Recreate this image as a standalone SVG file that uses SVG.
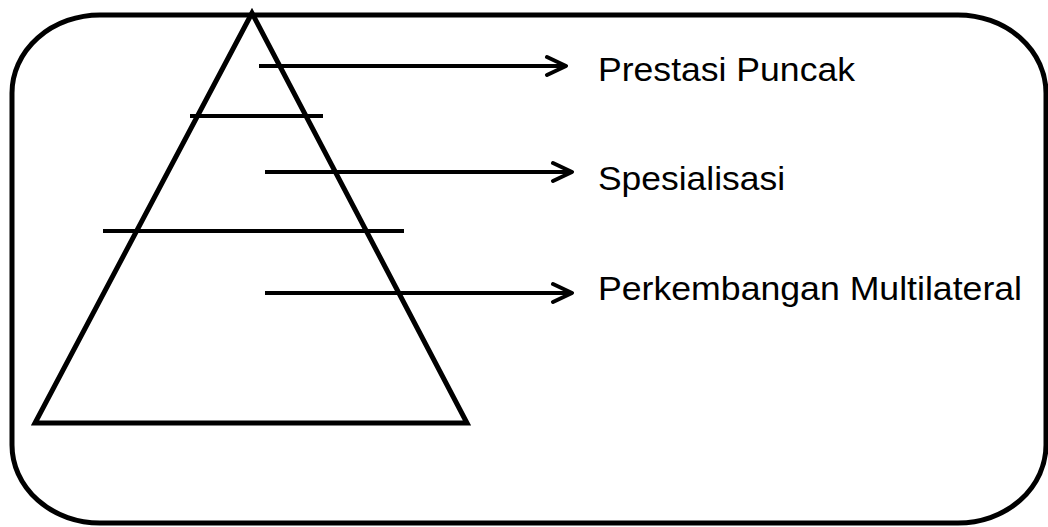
<svg xmlns="http://www.w3.org/2000/svg" width="1048" height="527" viewBox="0 0 1048 527">
<defs>
<style>
.s{fill:none;stroke:#000;stroke-width:5;stroke-linejoin:miter}
.l{stroke:#000;stroke-width:4;fill:none}
.t{font-family:"Liberation Sans",Arial,sans-serif;font-size:34px;fill:#000}
</style>
<marker id="ah" viewBox="0 0 24 24" markerWidth="24" markerHeight="24" refX="22" refY="12" markerUnits="userSpaceOnUse" orient="auto">
<path d="M3,3 L22,12 L3,21" fill="none" stroke="#000" stroke-width="4" stroke-linecap="round" stroke-linejoin="round"/>
</marker>
</defs>
<rect width="1048" height="527" fill="#fff"/>
<g id="frame"><rect class="s" x="12" y="15" width="1034" height="508" rx="88" ry="78"/></g>
<g id="pyramid">
<polygon class="s" points="252,13 35,423 467,423"/>
<line class="l" x1="190" y1="116" x2="323" y2="116"/>
<line class="l" x1="103" y1="231" x2="404" y2="231"/>
</g>
<g id="connectors">
<line class="l" x1="259" y1="66" x2="566" y2="66" marker-end="url(#ah)"/>
<line class="l" x1="265" y1="172" x2="572" y2="172" marker-end="url(#ah)"/>
<line class="l" x1="265" y1="293" x2="572" y2="293" marker-end="url(#ah)"/>
</g>
<g id="label1"><text class="t" x="598" y="81" textLength="257" lengthAdjust="spacingAndGlyphs">Prestasi Puncak</text></g>
<g id="label2"><text class="t" x="598" y="190" textLength="187" lengthAdjust="spacingAndGlyphs">Spesialisasi</text></g>
<g id="label3"><text class="t" x="598" y="300" textLength="424" lengthAdjust="spacingAndGlyphs">Perkembangan Multilateral</text></g>
</svg>
